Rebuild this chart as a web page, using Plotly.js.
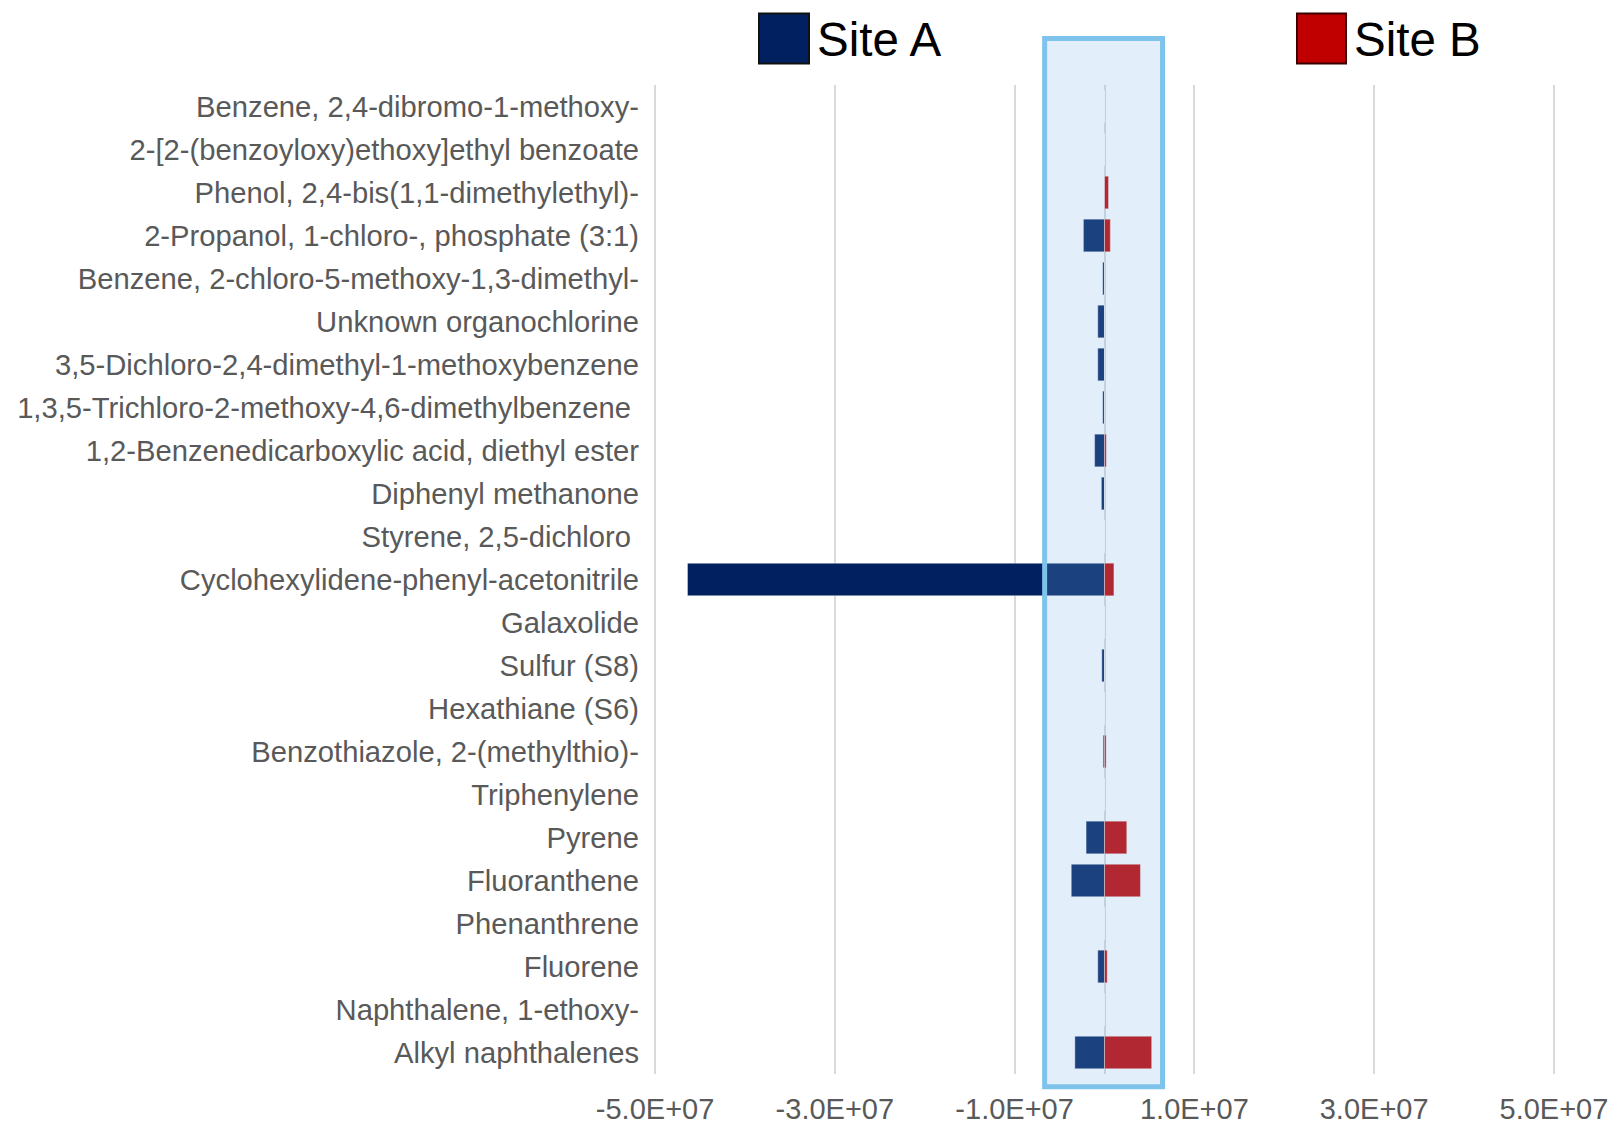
<!DOCTYPE html>
<html>
<head>
<meta charset="utf-8">
<script src="https://cdn.plot.ly/plotly-3.0.1.min.js"></script>
<style>
  html, body { margin: 0; padding: 0; background: #ffffff; }
  #chart { width: 1610px; height: 1122px; }
</style>
</head>
<body>
<div id="chart"></div>
<script>
// ---- data ----
var categories = [
  "Benzene, 2,4-dibromo-1-methoxy-",
  "2-[2-(benzoyloxy)ethoxy]ethyl benzoate",
  "Phenol, 2,4-bis(1,1-dimethylethyl)-",
  "2-Propanol, 1-chloro-, phosphate (3:1)",
  "Benzene, 2-chloro-5-methoxy-1,3-dimethyl-",
  "Unknown organochlorine",
  "3,5-Dichloro-2,4-dimethyl-1-methoxybenzene",
  "1,3,5-Trichloro-2-methoxy-4,6-dimethylbenzene\u00a0",
  "1,2-Benzenedicarboxylic acid, diethyl ester",
  "Diphenyl methanone",
  "Styrene, 2,5-dichloro\u00a0",
  "Cyclohexylidene-phenyl-acetonitrile",
  "Galaxolide",
  "Sulfur (S8)",
  "Hexathiane (S6)",
  "Benzothiazole, 2-(methylthio)-",
  "Triphenylene",
  "Pyrene",
  "Fluoranthene",
  "Phenanthrene",
  "Fluorene",
  "Naphthalene, 1-ethoxy-",
  "Alkyl naphthalenes"
];

var seriesNames = ["Site A", "Site B"];

var siteA = [0, 0, 0, -2.35e6, -2.0e5, -7.5e5, -7.5e5, -2.0e5, -1.1e6, -3.5e5,
             0, -4.64e7, 0, -3.0e5, 0, -1.5e5, 0, -2.05e6, -3.7e6, 0,
             -7.5e5, 0, -3.3e6];

var siteB = [0, 0, 4.5e5, 6.5e5, 0, 0, 0, 0, 2.0e5, 0,
             0, 1.05e6, 0, 0, 0, 1.8e5, 0, 2.48e6, 4.0e6, 0,
             3.0e5, 0, 5.25e6];

var xTickVals = [-5e7, -3e7, -1e7, 1e7, 3e7, 5e7];
var xTickText = ["-5.0E+07", "-3.0E+07", "-1.0E+07", "1.0E+07", "3.0E+07", "5.0E+07"];

// highlighted window on the value axis
var highlightRange = [-6.66e6, 6.46e6];

// ---- styling ----
var colorA = "#002060";
var colorB = "#C00000";
var fontFam = "Liberation Sans, Arial, Helvetica, sans-serif";
var barLine = { color: "rgba(255,255,255,0.45)", width: 1 };

var traces = [
  {
    type: "bar", orientation: "h", name: seriesNames[0],
    y: categories, x: siteA,
    marker: { color: colorA, line: barLine },
    showlegend: false, hoverinfo: "x+y"
  },
  {
    type: "bar", orientation: "h", name: seriesNames[1],
    y: categories, x: siteB,
    marker: { color: colorB, line: barLine },
    showlegend: false, hoverinfo: "x+y"
  }
];

var plotTop = 85, plotBottom = 1074, plotLeft = 654, plotRight = 1555;
var H = 1122, W = 1610;
function py(pix) { return (plotBottom - pix) / (plotBottom - plotTop); }
function px(pix) { return (pix - plotLeft) / (plotRight - plotLeft); }

var layout = {
  width: W, height: H,
  paper_bgcolor: "#ffffff", plot_bgcolor: "#ffffff",
  margin: { l: plotLeft, r: W - plotRight, t: plotTop, b: H - plotBottom, pad: 0 },
  barmode: "relative",
  bargap: 0.24,
  font: { family: fontFam, color: "#595959", size: 29 },
  xaxis: {
    range: [-5.012e7, 5.012e7],
    tickvals: xTickVals, ticktext: xTickText,
    showgrid: true, gridcolor: "#D9D9D9", gridwidth: 2,
    zeroline: true, zerolinecolor: "#D9D9D9", zerolinewidth: 2,
    showline: false, ticks: "",
    ticklabelstandoff: 15,
    tickfont: { family: fontFam, size: 29, color: "#595959" },
    fixedrange: true
  },
  yaxis: {
    type: "category",
    autorange: "reversed",
    showgrid: false, zeroline: false, showline: false, ticks: "",
    ticklabelstandoff: 14,
    tickfont: { family: fontFam, size: 29.2, color: "#595959" },
    fixedrange: true
  },
  shapes: [
    {
      type: "rect", layer: "above",
      xref: "x", yref: "paper",
      x0: highlightRange[0], x1: highlightRange[1],
      y0: py(1086.8), y1: py(38.5),
      fillcolor: "rgba(121,183,233,0.22)",
      line: { color: "#7DC3EB", width: 5 }
    },
    {
      type: "rect", xref: "paper", yref: "paper",
      x0: px(759), x1: px(809), y0: py(63.5), y1: py(13.5),
      fillcolor: colorA, line: { color: "#111111", width: 2 }
    },
    {
      type: "rect", xref: "paper", yref: "paper",
      x0: px(1297), x1: px(1346), y0: py(63.5), y1: py(13.5),
      fillcolor: colorB, line: { color: "#3a0000", width: 2 }
    }
  ],
  annotations: [
    {
      xref: "paper", yref: "paper", x: px(815), y: py(39.5),
      xanchor: "left", yanchor: "middle", showarrow: false,
      text: seriesNames[0],
      font: { family: fontFam, size: 47.5, color: "#000000" }
    },
    {
      xref: "paper", yref: "paper", x: px(1352), y: py(39.5),
      xanchor: "left", yanchor: "middle", showarrow: false,
      text: seriesNames[1],
      font: { family: fontFam, size: 47.5, color: "#000000" }
    }
  ]
};

Plotly.newPlot("chart", traces, layout, { displayModeBar: false, staticPlot: true });
</script>
</body>
</html>
